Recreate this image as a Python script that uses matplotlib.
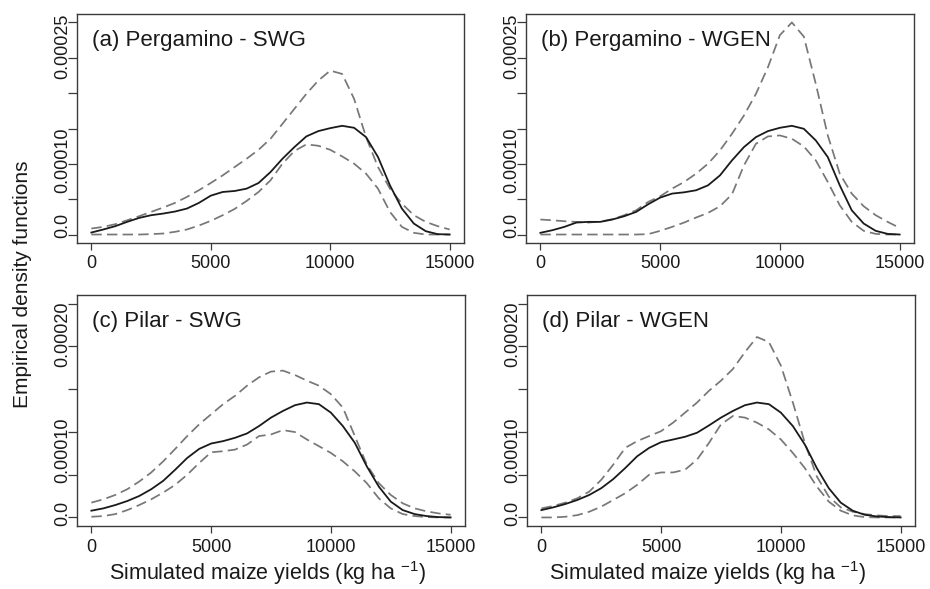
import matplotlib.pyplot as plt
from matplotlib.ticker import FixedLocator

plt.rcParams['font.family'] = ['Liberation Sans', 'DejaVu Sans']
plt.rcParams['mathtext.fontset'] = 'custom'
plt.rcParams['mathtext.rm'] = 'Liberation Sans'
plt.rcParams['mathtext.default'] = 'regular'

# yield grid the curves were read at (kg/ha)
YIELDS = list(range(0, 15001, 500))
SCALE = 1e-5  # densities below are in units of 1e-5

# (a) Pergamino - SWG
a_obs = [0.28, 0.71, 1.18, 1.79, 2.35, 2.73, 2.96, 3.25, 3.67, 4.47, 5.50,
         6.02, 6.16, 6.49, 7.29, 8.84, 10.72, 12.37, 13.88, 14.63, 15.05,
         15.38, 15.10, 13.78, 10.96, 6.96, 3.67, 1.55, 0.47, 0.05, 0.0]
a_hi = [0.85, 1.08, 1.46, 2.02, 2.59, 3.20, 3.81, 4.47, 5.32, 6.26, 7.29,
        8.37, 9.55, 10.72, 11.99, 13.55, 15.66, 17.78, 19.90, 21.78, 23.19,
        22.72, 19.19, 13.78, 9.55, 6.49, 4.37, 2.73, 1.79, 1.18, 0.71]
a_lo = [0.0, 0.0, 0.0, 0.0, 0.0, 0.05, 0.14, 0.38, 0.71, 1.27, 1.93,
        2.73, 3.62, 4.75, 6.02, 7.67, 10.02, 11.81, 12.75, 12.56, 11.99,
        11.05, 10.02, 8.61, 6.49, 3.20, 1.08, 0.24, 0.0, 0.0, 0.0]

# (b) Pergamino - WGEN
b_obs = [0.24, 0.61, 1.08, 1.69, 1.79, 1.79, 2.12, 2.59, 3.20, 4.28, 5.22,
         5.79, 5.97, 6.26, 6.96, 8.37, 10.49, 12.37, 13.78, 14.63, 15.10,
         15.38, 14.96, 13.31, 10.96, 6.96, 3.43, 1.55, 0.52, 0.09, 0.0]
b_hi = [2.12, 2.02, 1.88, 1.79, 1.69, 1.83, 2.16, 2.73, 3.43, 4.61, 5.41,
        6.49, 7.43, 8.61, 10.02, 11.90, 14.25, 16.84, 19.90, 23.66, 28.20,
        30.01, 28.00, 21.31, 14.02, 8.61, 5.79, 4.00, 2.73, 1.79, 0.94]
b_lo = [0.0, 0.0, 0.0, 0.0, 0.0, 0.0, 0.0, 0.0, 0.0, 0.05, 0.52,
        1.08, 1.69, 2.40, 3.06, 4.00, 5.69, 9.78, 12.84, 13.88, 14.02,
        13.55, 12.46, 10.49, 7.43, 4.14, 1.79, 0.52, 0.09, 0.0, 0.0]

# (c) Pilar - SWG
c_obs = [0.79, 1.06, 1.45, 1.92, 2.51, 3.30, 4.28, 5.58, 6.95, 8.01, 8.64,
         8.92, 9.31, 9.82, 10.68, 11.67, 12.45, 13.12, 13.43, 13.24, 12.25,
         10.68, 8.72, 5.97, 3.61, 1.85, 0.86, 0.39, 0.16, 0.04, 0.0]
c_hi = [1.73, 2.12, 2.63, 3.30, 4.20, 5.26, 6.56, 8.01, 9.51, 10.88, 12.06,
        13.24, 14.22, 15.40, 16.38, 17.05, 17.16, 16.65, 15.99, 15.40, 14.41,
        12.84, 9.51, 6.17, 4.01, 2.63, 1.65, 1.06, 0.71, 0.47, 0.31]
c_lo = [0.08, 0.16, 0.39, 0.86, 1.45, 2.12, 2.91, 3.81, 4.99, 6.36, 7.62,
        7.74, 7.93, 8.52, 9.51, 9.70, 10.21, 9.98, 9.11, 8.33, 7.54,
        6.56, 5.38, 4.01, 2.24, 1.06, 0.39, 0.16, 0.04, 0.0, 0.0]

# (d) Pilar - WGEN
d_obs = [0.86, 1.18, 1.57, 2.04, 2.63, 3.42, 4.48, 5.77, 7.15, 8.13, 8.80,
         9.11, 9.43, 9.90, 10.76, 11.67, 12.45, 13.12, 13.43, 13.24, 12.25,
         10.68, 8.52, 5.77, 3.42, 1.73, 0.79, 0.31, 0.12, 0.04, 0.0]
d_hi = [1.06, 1.34, 1.73, 2.24, 3.02, 4.40, 6.17, 8.13, 8.92, 9.51, 10.09,
        11.08, 12.25, 13.43, 14.81, 15.99, 17.36, 19.32, 21.09, 20.50, 17.75,
        13.43, 8.72, 4.79, 2.44, 1.18, 0.67, 0.39, 0.24, 0.16, 0.16]
d_lo = [0.0, 0.0, 0.08, 0.27, 0.67, 1.26, 2.04, 2.83, 3.81, 4.99, 5.26,
        5.26, 5.58, 6.76, 8.72, 10.88, 11.86, 11.67, 11.08, 10.29, 9.11,
        7.54, 5.77, 3.61, 1.85, 0.79, 0.24, 0.04, 0.0, 0.0, 0.0]

TITLES = ['(a) Pergamino - SWG', '(b) Pergamino - WGEN',
          '(c) Pilar - SWG', '(d) Pilar - WGEN']
SERIES = [(a_obs, a_hi, a_lo), (b_obs, b_hi, b_lo),
          (c_obs, c_hi, c_lo), (d_obs, d_hi, d_lo)]

X_TICKS = [0, 5000, 10000, 15000]
# tick marks every 0.00005; labels sit where the original put them
TOP_MARKS = [0, 5e-5, 1e-4, 1.5e-4, 2e-4, 2.5e-4, 3e-4]
TOP_LABEL_POS = [1.3e-5, 1.05e-4, 2.66e-4]
TOP_LABELS = ['0.0', '0.00010', '0.00025']
BOT_MARKS = [0, 5e-5, 1e-4, 1.5e-4, 2e-4, 2.5e-4]
BOT_LABEL_POS = [0.5e-5, 7.9e-5, 2.14e-4]
BOT_LABELS = ['0.0', '0.00010', '0.00020']

OBS_COLOR = '#1a1a1a'
BAND_COLOR = '#777777'
FRAME_COLOR = '#3a3a3a'

W, H = 930, 589
# axes boxes in pixels: left, top, right, bottom
BOXES = [(77, 14, 464, 243), (526, 14, 914, 243),
         (77, 295, 465, 526), (527, 295, 915, 526)]


def make_axes(fig, box):
    l, t, r, b = box
    return fig.add_axes([l / W, 1 - b / H, (r - l) / W, (b - t) / H])


def style_axes(ax, top_row):
    marks = TOP_MARKS if top_row else BOT_MARKS
    pos = TOP_LABEL_POS if top_row else BOT_LABEL_POS
    labels = TOP_LABELS if top_row else BOT_LABELS

    pad = 0.04 * 15000
    ax.set_xlim(-pad, 15000 + pad)
    ymax = marks[-1]
    ax.set_ylim(-0.04 * ymax, ymax * 1.04)

    ax.set_xticks(X_TICKS)
    ax.set_xticklabels([str(v) for v in X_TICKS])
    ax.tick_params(axis='x', length=5, width=0.9, pad=4, labelsize=13,
                   color=FRAME_COLOR, labelcolor='#1a1a1a')

    ax.yaxis.set_major_locator(FixedLocator(pos))
    ax.set_yticklabels(labels)
    ax.yaxis.set_minor_locator(FixedLocator(marks))
    ax.tick_params(axis='y', which='major', length=0, pad=4, labelsize=13,
                   labelcolor='#1a1a1a')
    ax.tick_params(axis='y', which='minor', length=6.5, width=0.9,
                   color=FRAME_COLOR)
    for lab in ax.get_yticklabels():
        lab.set_rotation(90)
        lab.set_va('center')

    for sp in ax.spines.values():
        sp.set_color(FRAME_COLOR)
        sp.set_linewidth(1.0)


def main():
    fig = plt.figure(figsize=(W / 100, H / 100), dpi=100)

    for i, (box, title, (obs, hi, lo)) in enumerate(zip(BOXES, TITLES, SERIES)):
        ax = make_axes(fig, box)
        for band in (hi, lo):
            ax.plot(YIELDS, [v * SCALE for v in band], color=BAND_COLOR,
                    lw=1.25, dashes=(6, 3), solid_joinstyle='round',
                    dash_joinstyle='round')
        ax.plot(YIELDS, [v * SCALE for v in obs], color=OBS_COLOR, lw=1.3,
                solid_joinstyle='round')
        style_axes(ax, i < 2)
        ax.text(0.038, 0.862, title, transform=ax.transAxes, fontsize=16,
                color='#1a1a1a', va='baseline', ha='left')

    xlab = r'Simulated maize yields (kg ha $^{-1}$)'
    fig.text(268 / W, 1 - 573 / H, xlab, fontsize=15.5, ha='center',
             va='center', color='#1a1a1a')
    fig.text(708 / W, 1 - 573 / H, xlab, fontsize=15.5, ha='center',
             va='center', color='#1a1a1a')
    fig.text(23 / W, 1 - 284 / H, 'Empirical density functions', fontsize=15,
             rotation=90, ha='center', va='center', color='#1a1a1a')

    fig.savefig('out.png', dpi=100)


if __name__ == '__main__':
    main()
